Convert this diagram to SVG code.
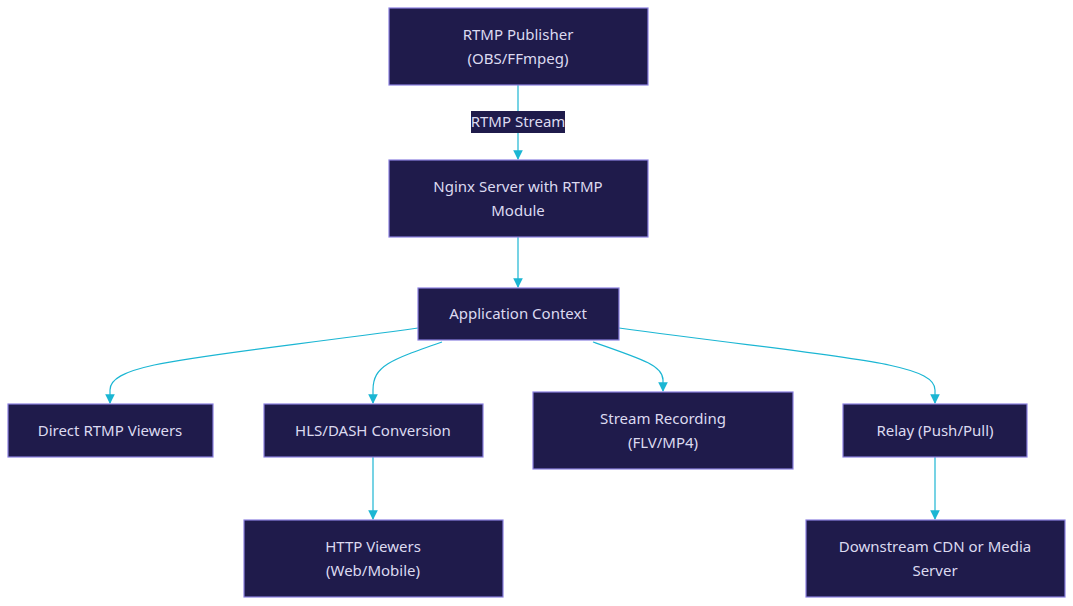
<svg xmlns="http://www.w3.org/2000/svg" width="1073" height="606" viewBox="0 0 1073 606">
<style>
.n rect{fill:#1f1b4b;stroke:#8b80e0;stroke-width:1.2}
text{font-family:"Noto Sans","Liberation Sans",sans-serif;font-size:15px;fill:#dcdaf0;text-anchor:middle}
.e path{fill:none;stroke:#1bb6d3;stroke-width:1.2;marker-end:url(#a)}
</style>
<defs><marker id="a" viewBox="0 0 10 10" refX="9" refY="5" markerWidth="8" markerHeight="8" orient="auto"><path d="M0,0 L10,5 L0,10 z" fill="#1bb6d3"/></marker></defs>
<rect width="1073" height="606" fill="#fff"/>
<g class="e">
<path d="M518,85 L518,159"/>
<path d="M518,237 L518,287"/>
<path d="M418,328 C200,358 110,362 110,390 L110,403"/>
<path d="M442,342 C390,360 373,366 373,390 L373,403"/>
<path d="M593,342 C645,360 663,366 663,380 L663,391"/>
<path d="M619,328 C840,358 935,362 935,390 L935,403"/>
<path d="M373,457 L373,519"/>
<path d="M935,457 L935,519"/>
<rect x="471" y="111" width="94" height="22" fill="#1f1b4b"/>
<text x="518" y="127">RTMP Stream</text>
</g>
<g id="pub" class="n"><rect x="389" y="8" width="259" height="77"/><text x="518" y="40">RTMP Publisher</text><text x="518" y="64">(OBS/FFmpeg)</text></g>
<g id="nginx" class="n"><rect x="389" y="160" width="259" height="77"/><text x="518" y="192">Nginx Server with RTMP</text><text x="518" y="216">Module</text></g>
<g id="app" class="n"><rect x="418" y="288" width="201" height="52"/><text x="518" y="319">Application Context</text></g>
<g id="direct" class="n"><rect x="8" y="404" width="205" height="53"/><text x="110" y="436">Direct RTMP Viewers</text></g>
<g id="hls" class="n"><rect x="264" y="404" width="219" height="53"/><text x="373" y="436">HLS/DASH Conversion</text></g>
<g id="rec" class="n"><rect x="533" y="392" width="260" height="77"/><text x="663" y="424">Stream Recording</text><text x="663" y="448">(FLV/MP4)</text></g>
<g id="relay" class="n"><rect x="843" y="404" width="184" height="53"/><text x="935" y="436">Relay (Push/Pull)</text></g>
<g id="http" class="n"><rect x="244" y="520" width="259" height="77"/><text x="373" y="552">HTTP Viewers</text><text x="373" y="576">(Web/Mobile)</text></g>
<g id="cdn" class="n"><rect x="806" y="520" width="259" height="77"/><text x="935" y="552">Downstream CDN or Media</text><text x="935" y="576">Server</text></g>
</svg>
